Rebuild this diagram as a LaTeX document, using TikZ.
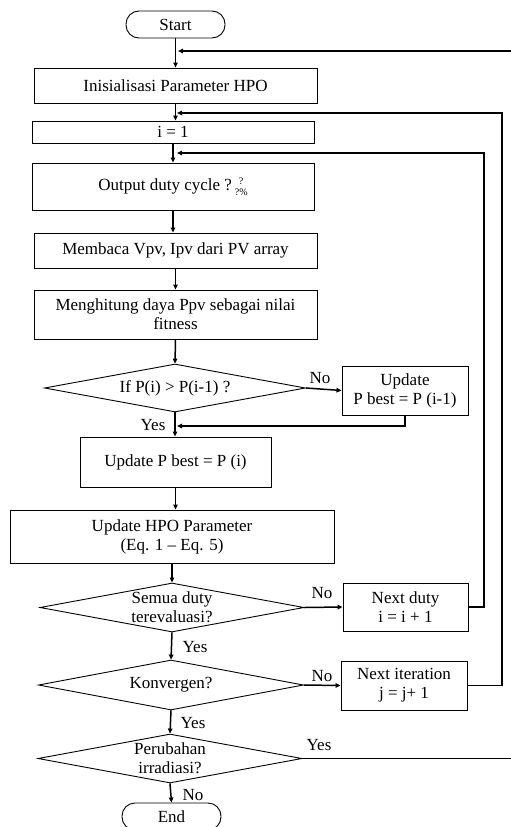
\documentclass[tikz,border=0pt]{standalone}
\usepackage{fontspec}
\setmainfont{Liberation Serif}
\usetikzlibrary{shapes.geometric, arrows.meta}

\tikzset{
  box/.style={draw, line width=0.9pt, inner sep=0.75pt, align=center},
  term/.style={box, rounded corners=13pt},
  dec/.style={draw, diamond, line width=0.9pt, inner sep=0pt},
  dectext/.style={align=center, inner sep=0pt},
  conn/.style={line width=1.5pt},
  arr/.style={conn, -{Triangle[length=5pt,width=4.5pt]}},
  lbl/.style={inner sep=0.75pt}
}
\newcommand{\pctmark}{\raisebox{-5pt}{\fontsize{10}{9}\selectfont\shortstack{?\\[1.5pt]?\%}}}

\begin{document}
\begin{tikzpicture}[x=1pt,y=1pt,yscale=-1,xscale=1,font=\fontsize{17}{19}\selectfont]
\useasboundingbox (0,0) rectangle (511,827);

% Nodes
\node [term, minimum width=99pt, minimum height=27pt] (start) at (175.5,24.5) {Start};
\node [box, minimum width=283pt, minimum height=35pt] (init) at (175.5,85.5) {Inisialisasi Parameter HPO};
\node [box, minimum width=282pt, minimum height=22pt] (ione) at (173,132) {i = 1};
\node [box, minimum width=282pt, minimum height=47pt] (output) at (173,186.5) {Output duty cycle ?\,\pctmark};
\node [box, minimum width=283pt, minimum height=35pt] (baca) at (175.5,250.5) {Membaca Vpv, Ipv dari PV array};
\node [box, minimum width=283pt, minimum height=49pt] (hitung) at (175.5,314.5) {Menghitung daya Ppv sebagai nilai\\fitness};

\node [dec, minimum width=261pt, minimum height=48pt] (cekp) at (175,388) {};
\node [dectext] at (cekp) {If P(i) > P(i-1) ?};
\node [box, minimum width=126pt, minimum height=49pt] (updlama) at (405,390.5) {Update\\P best = P (i-1)};

\node [box, minimum width=191pt, minimum height=50pt] (updbaru) at (175.5,462) {Update P best = P (i)};
\node [box, minimum width=324pt, minimum height=53pt] (updhpo) at (172,536.5) {Update HPO Parameter\\(Eq. 1 -- Eq. 5)};

\node [dec, minimum width=264pt, minimum height=49pt] (cekduty) at (172,607.5) {};
\node [dectext] at (cekduty) {Semua duty\\terevaluasi?};
\node [box, minimum width=125pt, minimum height=48pt] (nextduty) at (405.5,607) {Next duty\\i = i + 1};

\node [dec, minimum width=265pt, minimum height=50pt] (konv) at (171,685) {};
\node [dectext] at (konv) {Konvergen?};
\node [box, minimum width=126pt, minimum height=49pt] (nextiter) at (404,685.5) {Next iteration\\j = j+ 1};

\node [dec, minimum width=264pt, minimum height=49pt] (irrad) at (170,758.5) {};
\node [dectext] at (irrad) {Perubahan\\irradiasi?};
\node [term, minimum width=99pt, minimum height=27pt] (finish) at (171.5,816.5) {End};

% Straight Lines
\draw [arr] (start.south) -- (start.south |- init.north);
\draw [arr] (init.south) -- (init.south |- ione.north);
\draw [arr] (ione.south) -- (ione.south |- output.north);
\draw [arr] (output.south) -- (output.south |- baca.north);
\draw [arr] (baca.south) -- (hitung.north);
\draw [arr] (hitung.south) -- (cekp.north);
\draw [arr] (cekp.east) -- (updlama.west);
\draw [arr] (cekp.south) -- (cekp.south |- updbaru.north);
\draw [arr] (updlama.south) |- (177,426);
\draw [arr] (updbaru.south) -- (updbaru.south |- updhpo.north);
\draw [arr] (updhpo.south) -- (cekduty.north);
\draw [arr] (cekduty.east) -- (nextduty.west);
\draw [arr] (cekduty.south) -- (konv.north);
\draw [arr] (konv.east) -- (nextiter.west);
\draw [arr] (konv.south) -- (irrad.north);
\draw [arr] (irrad.south) -- (finish.north);

% Loops back
\draw [arr] (nextduty.east) -| (484,153) -- (177,153);
\draw [arr] (nextiter.east) -| (502,113) -- (177,113);
\draw [arr] (irrad.east) -| (512,51) -- (178,51);

% Text Node
\node [lbl] (no1) at (320,378) {No};
\node [lbl] (yes1) at (153,425) {Yes};
\node [lbl] (no2) at (322,593) {No};
\node [lbl] (yes2) at (195,647) {Yes};
\node [lbl] (no3) at (322,676) {No};
\node [lbl] (yes3) at (193,723) {Yes};
\node [lbl] (yes4) at (319,745) {Yes};
\node [lbl] (no4) at (193,795) {No};

\end{tikzpicture}
\end{document}
